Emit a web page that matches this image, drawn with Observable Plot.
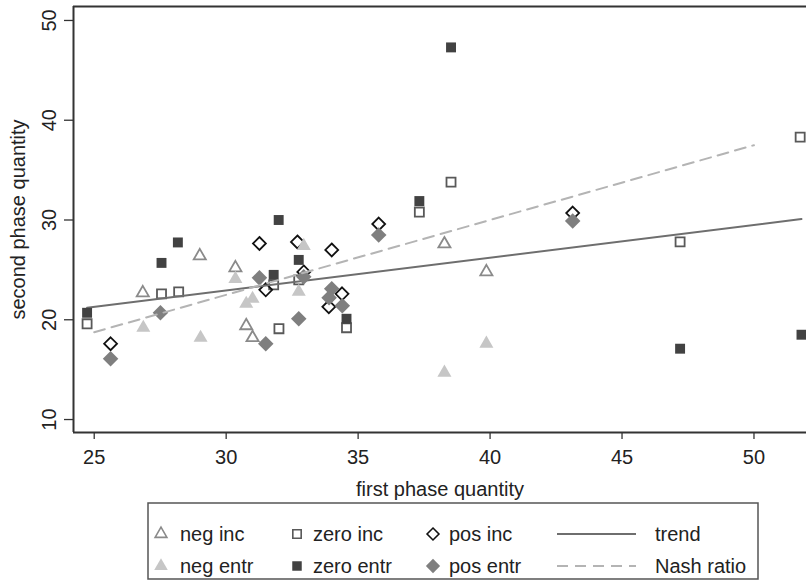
<!DOCTYPE html>
<html><head><meta charset="utf-8">
<script src="https://cdn.jsdelivr.net/npm/d3@7"></script>
<script src="https://cdn.jsdelivr.net/npm/@observablehq/plot@0.6"></script>
<style>
body{margin:0;background:#fff;font-family:"Liberation Sans",Arial,Helvetica,sans-serif;}
#wrap{position:relative;width:806px;height:582px;overflow:hidden;background:#fff;}
#chart{position:absolute;left:0;top:0;}
#legend{position:absolute;left:0;top:0;}
</style></head><body>
<div id="wrap"><div id="chart"></div><svg id="legend" width="806" height="582"></svg></div>
<script>
// axis settings
const xTicks = [25, 30, 35, 40, 45, 50];
const yTicks = [10, 20, 30, 40, 50];
const xDomain = [24.215, 51.99];
const yDomain = [8.70, 51.40];
const xLabel = "first phase quantity";
const yLabel = "second phase quantity";

// series (first phase quantity, second phase quantity)
const negIncX = [26.84, 29.0, 30.35, 30.76, 31.0, 38.27, 39.86];
const negIncY = [22.7, 26.4, 25.2, 19.4, 18.2, 27.6, 24.8];
const zeroIncX = [24.73, 27.55, 28.2, 31.8, 32.0, 32.75, 34.56, 37.32, 38.52, 47.2, 51.75];
const zeroIncY = [19.6, 22.6, 22.8, 23.5, 19.1, 24.0, 19.2, 30.8, 33.8, 27.8, 38.3];
const posIncX = [25.62, 31.26, 31.5, 32.7, 32.94, 33.89, 34.0, 34.39, 35.78, 43.13];
const posIncY = [17.6, 27.65, 23.0, 27.8, 24.8, 21.3, 27.0, 22.6, 29.6, 30.7];
const negEntrX = [26.86, 29.03, 30.35, 30.76, 31.0, 32.75, 32.94, 38.27, 39.86];
const negEntrY = [19.2, 18.2, 24.1, 21.6, 22.1, 22.8, 27.4, 14.7, 17.6];
const zeroEntrX = [24.73, 27.55, 28.17, 31.8, 31.99, 32.75, 34.56, 37.32, 38.52, 47.2, 51.8];
const zeroEntrY = [20.7, 25.7, 27.75, 24.5, 30.0, 26.0, 20.1, 31.9, 47.3, 17.1, 18.5];
const posEntrX = [25.62, 27.51, 31.26, 31.5, 32.75, 32.94, 34.0, 33.9, 34.4, 35.78, 43.13];
const posEntrY = [16.1, 20.7, 24.2, 17.6, 20.1, 24.3, 23.1, 22.2, 21.4, 28.5, 29.9];

// lines
const trendX = [24.73, 51.8];
const trendY = [21.2, 30.1];
const nashX = [25, 50];
const nashY = [18.75, 37.5];

// legend labels (row-wise, 4 columns)
const legendLabels = ["neg inc", "zero inc", "pos inc", "trend", "neg entr", "zero entr", "pos entr", "Nash ratio"];

const tbl = (xs, ys) => xs.map((x, i) => ({x, y: ys[i]}));

const C = {
  negInc: "#8a8a8a", negEntr: "#c6c6c6", zeroInc: "#595959", zeroEntr: "#424242",
  posInc: "#111111", posEntr: "#7f7f7f", trend: "#6e6e6e", nash: "#b4b4b4", axis: "#333333", text: "#222222"
};

const chart = Plot.plot({
  width: 806, height: 500,
  marginLeft: 73, marginRight: 0, marginTop: 6, marginBottom: 68,
  style: {fontFamily: "'Liberation Sans', Arial, Helvetica, sans-serif", fontSize: "20px", color: C.text, background: "white", overflow: "visible"},
  x: {domain: xDomain},
  y: {domain: yDomain},
  marks: [
    Plot.axisX({ticks: xTicks, tickSize: 7, tickPadding: 10, fontSize: 20, label: null, stroke: C.axis, strokeWidth: 1.3}),
    Plot.axisY({ticks: yTicks, tickSize: 9, tickFormat: () => "", label: null, stroke: C.axis, strokeWidth: 1.3}),
    Plot.text(yTicks, {y: d => d, text: d => String(d), frameAnchor: "left", rotate: -90, dx: -18, textAnchor: "middle", lineAnchor: "bottom", fontSize: 20, fill: C.text}),
    Plot.text([yLabel], {text: d => d, frameAnchor: "left", rotate: -90, dx: -49, textAnchor: "middle", lineAnchor: "bottom", fontSize: 20, fill: C.text}),
    Plot.text([xLabel], {text: d => d, frameAnchor: "bottom", dy: 63, textAnchor: "middle", lineAnchor: "bottom", fontSize: 20, fill: C.text}),
    Plot.ruleX([xDomain[0]], {stroke: C.axis, strokeWidth: 2}),
    Plot.ruleY([yDomain[0]], {stroke: C.axis, strokeWidth: 2}),
    Plot.ruleY([yDomain[1]], {stroke: C.axis, strokeWidth: 2}),
    Plot.dot(tbl(negIncX, negIncY), {x: "x", y: "y", symbol: "triangle", r: 4.5, fill: "none", stroke: C.negInc, strokeWidth: 1.8}),
    Plot.dot(tbl(zeroIncX, zeroIncY), {x: "x", y: "y", symbol: "square", r: 5.1, fill: "none", stroke: C.zeroInc, strokeWidth: 1.8}),
    Plot.dot(tbl(posIncX, posIncY), {x: "x", y: "y", symbol: "diamond2", r: 5.8, fill: "none", stroke: C.posInc, strokeWidth: 1.8}),
    Plot.line(tbl(trendX, trendY), {x: "x", y: "y", stroke: C.trend, strokeWidth: 2}),
    Plot.dot(tbl(negEntrX, negEntrY), {x: "x", y: "y", symbol: "triangle", r: 5.2, fill: C.negEntr, stroke: "none"}),
    Plot.dot(tbl(zeroEntrX, zeroEntrY), {x: "x", y: "y", symbol: "square", r: 5.6, fill: C.zeroEntr, stroke: "none"}),
    Plot.dot(tbl(posEntrX, posEntrY), {x: "x", y: "y", symbol: "diamond2", r: 7.0, fill: C.posEntr, stroke: "none"}),
    Plot.line(tbl(nashX, nashY), {x: "x", y: "y", stroke: C.nash, strokeWidth: 2, strokeDasharray: "11,7"})
  ]
});
document.getElementById("chart").appendChild(chart);

// legend below the plot
const lg = d3.select("#legend");
const box = {left: 148, top: 503, right: 758, bottom: 579};
lg.append("rect").attr("x", box.left).attr("y", box.top)
  .attr("width", box.right - box.left).attr("height", box.bottom - box.top)
  .attr("fill", "white").attr("stroke", "#555").attr("stroke-width", 1.5);
const rowY = [534, 566];
const symX = [161, 297, 433];
const txtX = [180, 313, 449, 655];
const keys = [
  {type: d3.symbolTriangle, size: 60, fill: "none", stroke: C.negInc},
  {type: d3.symbolSquare, size: 70, fill: "none", stroke: C.zeroInc},
  {type: d3.symbolDiamond2, size: 90, fill: "none", stroke: C.posInc},
  {line: true, stroke: C.trend, dash: null},
  {type: d3.symbolTriangle, size: 80, fill: C.negEntr, stroke: "none"},
  {type: d3.symbolSquare, size: 90, fill: C.zeroEntr, stroke: "none"},
  {type: d3.symbolDiamond2, size: 130, fill: C.posEntr, stroke: "none"},
  {line: true, stroke: C.nash, dash: "11,7"}
];
legendLabels.forEach((lab, i) => {
  const r = Math.floor(i / 4), c = i % 4;
  const k = keys[i];
  const cy = rowY[r];
  if (k.line) {
    lg.append("line").attr("x1", 557).attr("x2", 636).attr("y1", cy).attr("y2", cy)
      .attr("stroke", k.stroke).attr("stroke-width", 2).attr("stroke-dasharray", k.dash);
  } else {
    lg.append("path").attr("d", d3.symbol().type(k.type).size(k.size)())
      .attr("transform", `translate(${symX[c]},${cy})`)
      .attr("fill", k.fill).attr("stroke", k.stroke).attr("stroke-width", 1.6);
  }
  lg.append("text").attr("x", txtX[c]).attr("y", cy + 7).attr("font-size", 20)
    .attr("fill", C.text).attr("font-family", "'Liberation Sans', Arial, sans-serif").text(lab);
});
</script>
</body></html>
